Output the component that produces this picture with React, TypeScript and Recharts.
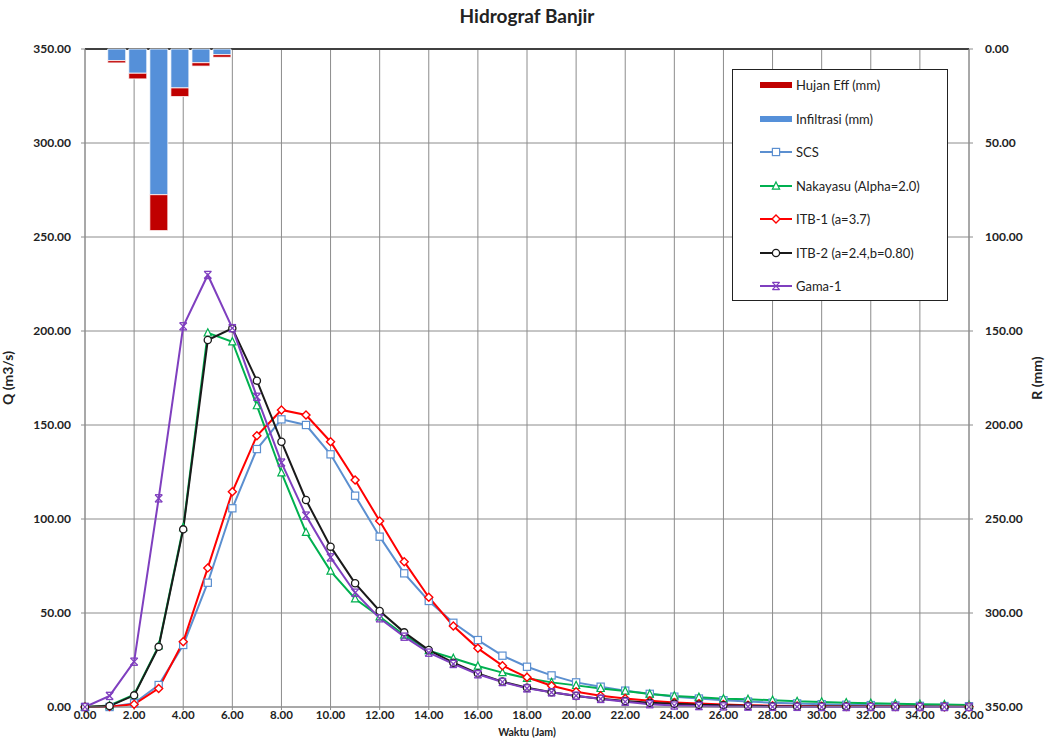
import React from 'react';
import {
  ComposedChart,
  BarChart,
  Bar,
  Line,
  XAxis,
  YAxis,
  CartesianGrid,
  ReferenceLine,
  Label,
} from 'recharts';

// time axis (jam)
const hours = [0, 1, 2, 3, 4, 5, 6, 7, 8, 9, 10, 11, 12, 13, 14, 15, 16, 17, 18, 19, 20, 21, 22, 23, 24, 25, 26, 27, 28, 29, 30, 31, 32, 33, 34, 35, 36];

// hidrograf (m3/s)
const scs = [0, 0, 2, 11.7, 33, 66.1, 105.7, 137.2, 153, 150, 134.4, 112.4, 90.6, 71.1, 56.4, 44.8, 35.6, 27.3, 21.4, 16.8, 13.1, 10.8, 8.7, 7, 5.5, 4.5, 3.6, 2.9, 2.3, 1.9, 1.5, 1.2, 1, 0.8, 0.6, 0.5, 0.4];
const nakayasu = [0, 0.8, 6.5, 32.5, 95.5, 199, 194.3, 160.3, 124.6, 92.9, 72.3, 57.6, 48, 38.3, 30, 25.9, 21.8, 18.3, 15.3, 13.1, 11.5, 9.9, 8.5, 6.9, 5.9, 5.2, 4.4, 4.1, 3.6, 3.0, 2.7, 2.3, 2.0, 1.7, 1.5, 1.3, 1.1];
const itb1 = [0, 0.2, 1.4, 9.9, 34.7, 74, 114.5, 144.3, 158, 155.3, 141.1, 120.7, 98.9, 77.3, 58.4, 43.1, 31.2, 22, 15.8, 11.3, 8.1, 6, 4.5, 3.3, 2.4, 1.8, 1.3, 0.9, 0.7, 0.5, 0.4, 0.3, 0.2, 0.2, 0.1, 0.1, 0.1];
const itb2 = [0, 0.5, 6.2, 32, 94.5, 195.2, 201.4, 173.6, 141.1, 110.1, 85.3, 65.8, 51.1, 39.7, 30.3, 23.6, 17.8, 13.5, 10.2, 7.8, 5.9, 4.4, 3.2, 2.3, 1.7, 1.2, 0.9, 0.6, 0.4, 0.3, 0.2, 0.2, 0.1, 0.1, 0.1, 0, 0];
const gama1 = [0, 5.9, 24.1, 111, 202.5, 229.8, 201.5, 165, 130, 101.8, 79.6, 60.8, 47.2, 37.4, 28.9, 22.9, 17.4, 13.3, 9.9, 7.8, 6, 4.3, 2.8, 1.5, 0.8, 0.5, 0.3, 0.2, 0.1, 0.1, 0, 0, 0, 0, 0, 0, 0];

// hujan (mm), slot 0..6 of the rain category axis
const infiltrasi = [0, 6.2, 12.9, 77.5, 20.7, 7.3, 3.0];
const hujanEff = [0, 1.2, 3.0, 19.1, 4.6, 1.8, 1.4];
const RAIN_SLOTS = 42;

const xTicks = [0, 2, 4, 6, 8, 10, 12, 14, 16, 18, 20, 22, 24, 26, 28, 30, 32, 34, 36];
const yTicks = [0, 50, 100, 150, 200, 250, 300, 350];

const W = 1049;
const H = 739;
const FONT = 'Lato, "Open Sans", sans-serif';

const C = {
  scs: '#5b8fd0',
  nakayasu: '#00b050',
  itb1: '#ff0000',
  itb2: '#1a1a1a',
  gama1: '#7f3fbf',
  hujan: '#c00000',
  infil: '#5590d9',
  grid: '#8c8c8c',
};

const lineData = hours.map((t, i) => ({
  t,
  scs: scs[i],
  nakayasu: nakayasu[i],
  itb1: itb1[i],
  itb2: itb2[i],
  gama1: gama1[i],
}));

const rainData = Array.from({ length: RAIN_SLOTS }, (_, i) => ({
  slot: i,
  infil: infiltrasi[i] ?? 0,
  hujan: hujanEff[i] ?? 0,
}));

type Shape = 'square' | 'triangle' | 'diamond' | 'circle' | 'gama';

const Marker = ({ shape, color, x, y }: { shape: Shape; color: string; x: number; y: number }) => {
  const s = 3.6;
  if (shape === 'square') {
    return <rect x={x - s} y={y - s} width={s * 2} height={s * 2} fill="#fff" stroke={color} strokeWidth={1.2} />;
  }
  if (shape === 'triangle') {
    return (
      <polygon
        points={`${x},${y - s - 0.5} ${x + s},${y + s - 0.5} ${x - s},${y + s - 0.5}`}
        fill="#fff"
        stroke={color}
        strokeWidth={1.2}
      />
    );
  }
  if (shape === 'diamond') {
    return (
      <polygon
        points={`${x},${y - s - 0.4} ${x + s + 0.4},${y} ${x},${y + s + 0.4} ${x - s - 0.4},${y}`}
        fill="#fff"
        stroke={color}
        strokeWidth={1.4}
      />
    );
  }
  if (shape === 'circle') {
    return <circle cx={x} cy={y} r={s} fill="#fff" stroke={color} strokeWidth={1.3} />;
  }
  return (
    <g stroke={color} strokeWidth={1.3} fill="none">
      <line x1={x - s} y1={y - s} x2={x + s} y2={y + s} />
      <line x1={x + s} y1={y - s} x2={x - s} y2={y + s} />
      <line x1={x - s} y1={y - s} x2={x + s} y2={y - s} />
      <line x1={x - s} y1={y + s} x2={x + s} y2={y + s} />
    </g>
  );
};

const makeDot = (shape: Shape, color: string) => (props: any) => {
  const { cx, cy, index } = props;
  if (cx == null || cy == null) return <g key={`d-${shape}-${index}`} />;
  return (
    <g key={`d-${shape}-${index}`}>
      <Marker shape={shape} color={color} x={cx} y={cy} />
    </g>
  );
};

const series: { key: string; name: string; color: string; shape: Shape }[] = [
  { key: 'scs', name: 'SCS', color: C.scs, shape: 'square' },
  { key: 'nakayasu', name: 'Nakayasu (Alpha=2.0)', color: C.nakayasu, shape: 'triangle' },
  { key: 'itb1', name: 'ITB-1 (a=3.7)', color: C.itb1, shape: 'diamond' },
  { key: 'itb2', name: 'ITB-2 (a=2.4,b=0.80)', color: C.itb2, shape: 'circle' },
  { key: 'gama1', name: 'Gama-1', color: C.gama1, shape: 'gama' },
];

const fmt = (v: number) => v.toFixed(2);
const tickStyle = { fontSize: 12, fontWeight: 700, fill: '#222', fontFamily: FONT };
const titleStyle = { fontSize: 14, fontWeight: 700, fill: '#222', fontFamily: FONT };

const ChartLegend = () => (
  <div
    style={{
      position: 'absolute',
      left: 732,
      top: 69,
      width: 216,
      height: 232,
      border: '1px solid #222',
      background: '#fff',
      boxSizing: 'border-box',
      fontFamily: FONT,
      fontSize: 13,
      color: '#222',
    }}
  >
    {[
      { name: 'Hujan Eff (mm)', color: C.hujan, bar: true, shape: 'circle' as Shape },
      { name: 'Infiltrasi (mm)', color: C.infil, bar: true, shape: 'circle' as Shape },
      ...series.map((s) => ({ name: s.name, color: s.color, bar: false, shape: s.shape })),
    ].map((item, i) => (
      <div
        key={item.name}
        style={{ position: 'absolute', left: 26, top: 6 + i * 33.5, height: 18, display: 'flex', alignItems: 'center' }}
      >
        <svg width={34} height={18} style={{ display: 'block' }}>
          {item.bar ? (
            <rect x={1} y={6} width={32} height={6} fill={item.color} />
          ) : (
            <>
              <line x1={1} y1={9} x2={33} y2={9} stroke={item.color} strokeWidth={2} />
              <Marker shape={item.shape} color={item.color} x={17} y={9} />
            </>
          )}
        </svg>
        <span style={{ marginLeft: 3, whiteSpace: 'nowrap' }}>{item.name}</span>
      </div>
    ))}
  </div>
);

export default function App() {
  return (
    <div style={{ position: 'absolute', left: 0, top: 0, width: W, height: H, background: '#fff', fontFamily: FONT }}>
      <div
        style={{
          position: 'absolute',
          left: 85,
          width: 884,
          top: 4,
          textAlign: 'center',
          fontSize: 19,
          fontWeight: 700,
          color: '#222',
        }}
      >
        Hidrograf Banjir
      </div>

      <div style={{ position: 'absolute', left: 0, top: 0 }}>
        <ComposedChart width={W} height={H} data={lineData} margin={{ top: 49, right: 80, bottom: 0, left: 25 }}>
          <CartesianGrid stroke={C.grid} strokeWidth={1} yAxisId="q" />
          <XAxis
            dataKey="t"
            type="number"
            domain={[0, 36]}
            ticks={xTicks}
            tickFormatter={fmt}
            tick={{ ...tickStyle, fontSize: 11.5 }}
            stroke={C.grid}
            tickSize={3}
            tickMargin={1}
            height={32}
            interval={0}
          >
            <Label value="Waktu (Jam)" position="insideBottom" offset={3} style={{ ...titleStyle, fontSize: 10.5 }} />
          </XAxis>
          <YAxis
            yAxisId="q"
            domain={[0, 350]}
            ticks={yTicks}
            tickFormatter={fmt}
            tick={tickStyle}
            stroke={C.grid}
            tickSize={4}
            tickMargin={10}
            width={60}
            interval={0}
          >
            <Label value="Q (m3/s)" angle={-90} position="insideLeft" offset={-17} style={{ ...titleStyle, textAnchor: 'middle' }} />
          </YAxis>
          <ReferenceLine yAxisId="q" y={350} stroke="#404040" strokeWidth={2} />
          {series.map((s) => (
            <Line
              key={s.key}
              yAxisId="q"
              type="linear"
              dataKey={s.key}
              name={s.name}
              stroke={s.color}
              strokeWidth={2}
              dot={makeDot(s.shape, s.color)}
              isAnimationActive={false}
            />
          ))}
        </ComposedChart>
      </div>

      <div style={{ position: 'absolute', left: 0, top: 0 }}>
        <BarChart
          width={W}
          height={H}
          data={rainData}
          margin={{ top: 49, right: 10, bottom: 32, left: 85 }}
          barCategoryGap="8%"
        >
          <XAxis dataKey="slot" type="category" hide />
          <YAxis
            orientation="right"
            domain={[0, 350]}
            reversed
            ticks={yTicks}
            tickFormatter={fmt}
            tick={{ ...tickStyle, textAnchor: 'start' }}
            stroke={C.grid}
            tickSize={4}
            tickMargin={12}
            width={70}
            interval={0}
          >
            <Label value="R (mm)" angle={-90} position="insideRight" offset={2} style={{ ...titleStyle, textAnchor: 'middle' }} />
          </YAxis>
          <Bar dataKey="infil" name="Infiltrasi (mm)" stackId="r" fill={C.infil} stroke="#fff" strokeWidth={0.8} isAnimationActive={false} />
          <Bar dataKey="hujan" name="Hujan Eff (mm)" stackId="r" fill={C.hujan} stroke="#fff" strokeWidth={0.8} isAnimationActive={false} />
        </BarChart>
      </div>

      <ChartLegend />
    </div>
  );
}
